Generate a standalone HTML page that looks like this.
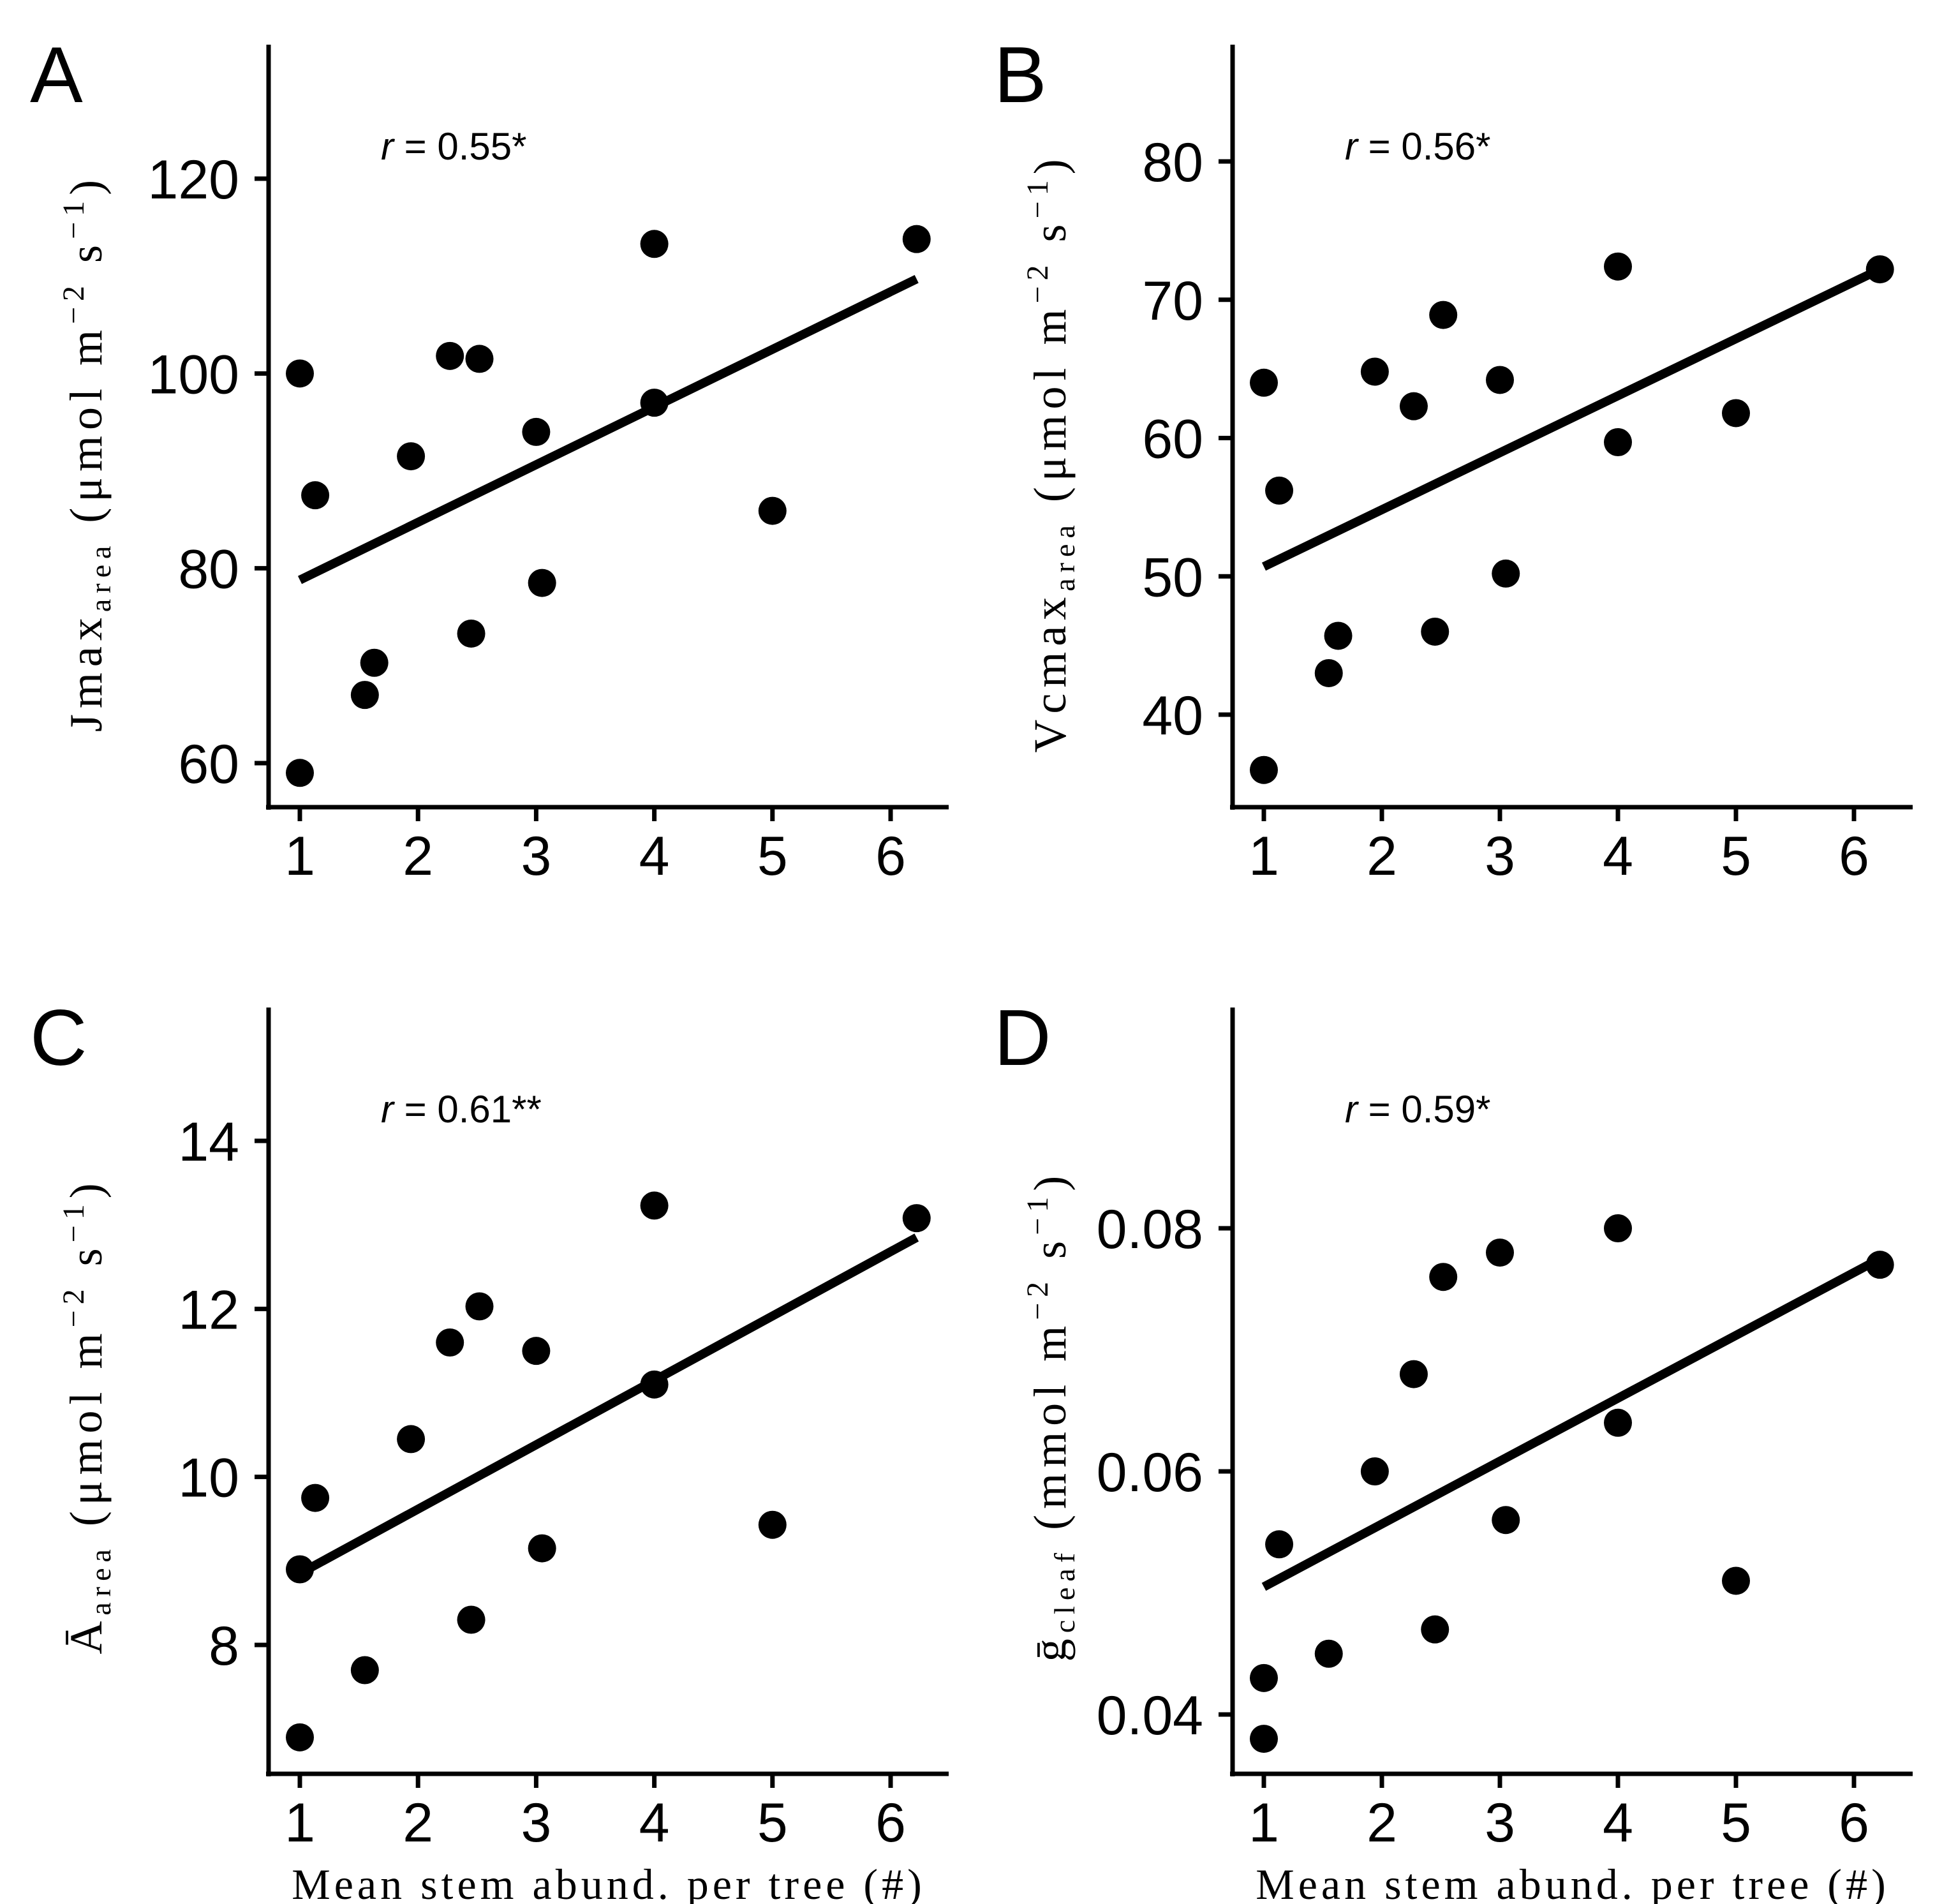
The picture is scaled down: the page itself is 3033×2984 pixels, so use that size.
<!DOCTYPE html>
<html><head><meta charset="utf-8"><style>
html,body{margin:0;padding:0;background:#fff}
svg{display:block}
text{font-family:"Liberation Sans",sans-serif;fill:#000}
.ylab{font-family:"Liberation Serif","Noto Serif CJK SC",serif;font-size:72px;letter-spacing:9px}
.xlab{font-family:"Liberation Serif","Noto Serif CJK SC",serif;font-size:68px;letter-spacing:6px}
</style></head><body>
<svg id="fig" width="3033" height="2984" viewBox="0 0 3033 2984" xmlns="http://www.w3.org/2000/svg"></svg>
<script>
const xsA=[1,1,1.13,1.55,1.63,1.94,2.27,2.52,2.45,3,3.05,4,4,5,6.22];
const ysA=[59,100,87.5,67,70.3,91.5,101.8,101.5,73.3,94,78.5,113.3,97,85.9,113.8];
const fitA=[78.8,109.7];
const xsB=[1,1,1.13,1.55,1.63,1.94,2.27,2.52,2.45,3,3.05,4,4,5,6.22];
const ysB=[64,36,56.2,43,45.7,64.8,62.3,68.9,46,64.2,50.2,72.4,59.7,61.8,72.2];
const fitB=[50.7,72.2];
const xsC=[1,1,1.13,1.55,1.94,2.27,2.52,2.45,3,3.05,4,4,5,6.22];
const ysC=[6.9,8.9,9.75,7.7,10.45,11.6,12.03,8.3,11.5,9.15,13.23,11.1,9.43,13.08];
const fitC=[8.85,12.85];
const xsD=[1,1,1.13,1.55,1.94,2.27,2.52,2.45,3,3.05,4,4,5,6.22];
const ysD=[0.043,0.038,0.054,0.045,0.060,0.068,0.076,0.047,0.078,0.056,0.080,0.064,0.051,0.077];
const fitD=[0.0505,0.0775];
const xTicks=[1,2,3,4,5,6];
const yTicksA=[60,80,100,120];
const yTicksB=[40,50,60,70,80];
const yTicksC=[8,10,12,14];
const yTicksD=[0.04,0.06,0.08];
const fitX=[1,6.22];

const NS="http://www.w3.org/2000/svg";
const svg=document.getElementById('fig');
function el(tag,attrs,parent){const e=document.createElementNS(NS,tag);for(const k in attrs)e.setAttribute(k,attrs[k]);(parent||svg).appendChild(e);return e;}

function panel(cfg){
  const g=el('g',{});
  
  
  const X=v=>cfg.x1+(v-1)*(cfg.x6-cfg.x1)/5;
  const Y=v=>cfg.yLoPx+(v-cfg.yLo)*(cfg.yHiPx-cfg.yLoPx)/(cfg.yHi-cfg.yLo);
  const ya=el('line',{x1:cfg.ax,y1:cfg.top,x2:cfg.ax,y2:cfg.bot+4,stroke:'#000','stroke-width':7},g);
  
  
  const xa=el('line',{x1:cfg.ax-4,y1:cfg.bot,x2:cfg.right,y2:cfg.bot,stroke:'#000','stroke-width':7},g);
  
  
  xTicks.forEach(t=>{
    const tl=el('line',{x1:X(t),y1:cfg.bot,x2:X(t),y2:cfg.bot+22,stroke:'#000','stroke-width':7},g);
    
    
    const tx=el('text',{x:X(t),y:cfg.bot+106,'text-anchor':'middle','font-size':86},g);
    tx.textContent=t;
    
    
  });
  cfg.yTicks.forEach(t=>{
    const tl=el('line',{x1:cfg.ax-22,y1:Y(t),x2:cfg.ax,y2:Y(t),stroke:'#000','stroke-width':7},g);
    
    
    const tx=el('text',{x:cfg.ax-46,y:Y(t)+31,'text-anchor':'end','font-size':86},g);
    tx.textContent=cfg.fmt(t);
    
    
  });
  const fl=el('line',{x1:X(fitX[0]),y1:Y(cfg.fit[0]),x2:X(fitX[1]),y2:Y(cfg.fit[1]),stroke:'#000','stroke-width':14},g);
  
  
  cfg.xs.forEach((xv,i)=>{
    const c=el('circle',{cx:X(xv),cy:Y(cfg.ys[i]),r:22,fill:'#000'},g);
    
    
  });
  const L=el('text',{x:cfg.ax-374,y:cfg.top+90,'font-size':124},g);
  L.textContent=cfg.letter;
  
  
  const r=el('text',{x:cfg.ax+176,y:cfg.top+180,'font-size':60},g);
  r.innerHTML='<tspan font-style="italic">r</tspan> = '+cfg.r;
  
  
  const yl=el('text',{class:'ylab',transform:'translate('+(cfg.ax-262)+','+(cfg.top+640)+') rotate(-90)','text-anchor':'middle'},g);
  yl.innerHTML=cfg.ylab;
  
  
  if(cfg.xlab){
    const xl=el('text',{class:'xlab',x:(cfg.ax+cfg.right)/2,y:cfg.bot+196,'text-anchor':'middle'},g);
    xl.textContent='Mean stem abund. per tree (#)';
    
    
  }
}
const unitU='(μmol m<tspan dy="-28" font-size="48">−2</tspan><tspan dy="28"> s</tspan><tspan dy="-28" font-size="48">−1</tspan><tspan dy="28">)</tspan>';
panel({letter:'A',ax:421,top:70,bot:1265,right:1487,x1:470,x6:1396,yLo:60,yHi:120,yLoPx:1196,yHiPx:280,xs:xsA,ys:ysA,fit:fitA,yTicks:yTicksA,fmt:v=>v,r:'0.55*',
  ylab:'Jmax<tspan dy="14" font-size="46">area</tspan><tspan dy="-14"> </tspan>'+unitU});
panel({letter:'B',ax:1932,top:70,bot:1265,right:2998,x1:1981,x6:2906,yLo:40,yHi:80,yLoPx:1120,yHiPx:253,xs:xsB,ys:ysB,fit:fitB,yTicks:yTicksB,fmt:v=>v,r:'0.56*',
  ylab:'Vcmax<tspan dy="14" font-size="46">area</tspan><tspan dy="-14"> </tspan>'+unitU});
panel({letter:'C',ax:421,top:1579,bot:2780,right:1487,x1:470,x6:1396,yLo:8,yHi:14,yLoPx:2578,yHiPx:1788,xs:xsC,ys:ysC,fit:fitC,yTicks:yTicksC,fmt:v=>v,r:'0.61**',xlab:true,
  ylab:'Ā<tspan dy="14" font-size="46">area</tspan><tspan dy="-14"> </tspan>'+unitU});
panel({letter:'D',ax:1932,top:1579,bot:2780,right:2998,x1:1981,x6:2906,yLo:0.04,yHi:0.08,yLoPx:2687,yHiPx:1925,xs:xsD,ys:ysD,fit:fitD,yTicks:yTicksD,fmt:v=>v.toFixed(2),r:'0.59*',xlab:true,
  ylab:'ḡ<tspan dy="14" font-size="46">cleaf</tspan><tspan dy="-14"> </tspan>(mmol m<tspan dy="-28" font-size="48">−2</tspan><tspan dy="28"> s</tspan><tspan dy="-28" font-size="48">−1</tspan><tspan dy="28">)</tspan>'});
</script>
</body></html>
